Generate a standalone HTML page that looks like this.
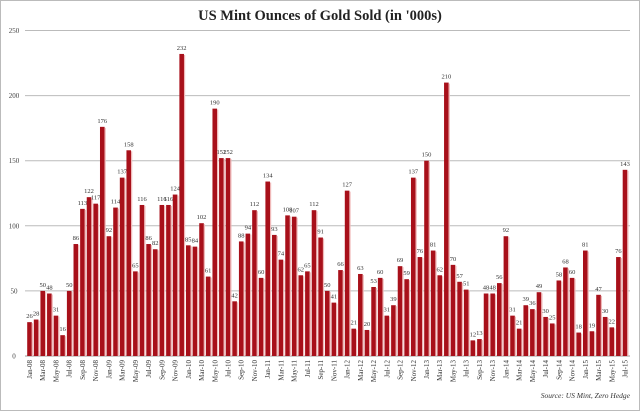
<!DOCTYPE html>
<html><head><meta charset="utf-8"><style>
html,body{margin:0;padding:0;background:#fff;}
svg{display:block;font-family:"Liberation Serif",serif;}
</style></head><body>
<svg id="chart" width="640" height="411">
<rect x="0.5" y="0.5" width="639" height="410" fill="#fff" stroke="#bbb"/>
<text x="320" y="20" text-anchor="middle" font-size="14.5" font-weight="bold" fill="#222">US Mint Ounces of Gold Sold (in '000s)</text>
<g id="grid"></g><g id="bars"></g><g id="xlabels"></g>
<text x="630" y="398" text-anchor="end" font-size="7.5" font-style="italic" fill="#333">Source: US Mint, Zero Hedge</text>
</svg>
<script>
const values=[26,28,50,48,31,16,50,86,113,122,117,176,
92,114,137,158,65,116,86,82,116,116,124,232,
85,84,102,61,190,152,152,42,88,94,112,60,
134,93,74,108,107,62,65,112,91,50,41,66,
127,21,63,20,53,60,31,39,69,59,137,76,
150,81,62,210,70,57,51,12,13,48,48,56,
92,31,21,39,36,49,30,25,58,68,60,18,
81,19,47,30,22,76,143];
const yTicks=[0,50,100,150,200,250];
const monthNames=["Jan","Feb","Mar","Apr","May","Jun","Jul","Aug","Sep","Oct","Nov","Dec"];
const NS="http://www.w3.org/2000/svg";
const y0=356,y1=30.5,vmax=250,xFirst=29.5,xLast=625;
function yS(v){return y0-(v/vmax)*(y0-y1);}
function xS(i){return xFirst+i*(xLast-xFirst)/(values.length-1);}
function mk(t,a,p){const e=document.createElementNS(NS,t);for(const k in a)e.setAttribute(k,a[k]);p.appendChild(e);return e;}
const grid=document.getElementById('grid'),bars=document.getElementById('bars'),xl=document.getElementById('xlabels');
yTicks.forEach(t=>{
 const l=mk('line',{x1:25,x2:630,y1:yS(t),y2:yS(t),stroke:t===0?'#999':'#bbb','stroke-width':1},grid);
 
 
 const tx=mk('text',{x:14,y:yS(t)+2.5,'text-anchor':'middle','font-size':7,fill:'#444'},grid);
 tx.textContent=t;
 
 
});
values.forEach((v,i)=>{
 const x=xS(i),bw=4.6;
 const r=mk('rect',{x:x-bw/2,y:yS(v),width:bw,height:y0-yS(v),fill:'#a8101a'},bars);
 
 
 const s=mk('rect',{x:x+bw/2,y:yS(v)+1,width:1.2,height:y0-yS(v)-1,fill:'#f0b8b8'},bars);
 
 
 const t=mk('text',{x:x,y:yS(v)-4,'text-anchor':'middle','font-size':6.5,fill:'#333'},bars);
 t.textContent=v;
 
 
 if(i%2===0){
  const yr=String(8+Math.floor(i/12)).padStart(2,'0');
  const lab=monthNames[i%12]+'-'+yr;
  const lt=mk('text',{x:0,y:0,'text-anchor':'end','font-size':7,fill:'#333',transform:'translate('+(x+2.5)+','+(y0+4)+') rotate(-90)'},xl);
  lt.textContent=lab;
  
  
 }
});
</script>
</body></html>
